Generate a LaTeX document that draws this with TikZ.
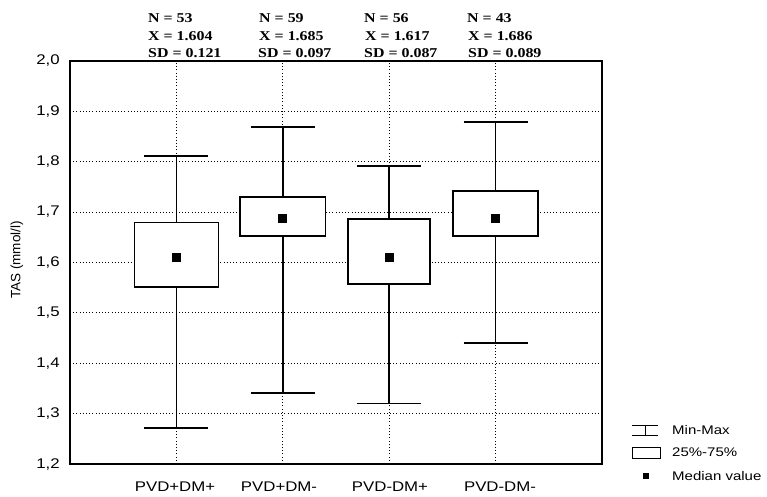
\documentclass[tikz,border=0pt]{standalone}
\usepackage{fontspec}
\setmainfont{Liberation Serif}
\newfontfamily\statfont{Liberation Serif}[FakeStretch=1.18]
\newfontfamily\axisfont{Liberation Sans}[FakeStretch=1.2]
\newfontfamily\labfont{Liberation Sans}
\tikzset{every node/.append style={font=\axisfont\fontsize{14}{16}\selectfont}}
\tikzset{
  stat/.style={anchor=west, inner sep=0pt, font=\statfont\bfseries\fontsize{13.5}{16}\selectfont},
  tick/.style={anchor=east, inner sep=0pt},
  grp/.style={inner sep=0pt},
  legtext/.style={anchor=west, inner sep=0pt, font=\axisfont\fontsize{12.5}{15}\selectfont},
  gridline/.style={line width=0.9pt, dash pattern=on 1pt off 2.2pt},
  whisker/.style={line width=1.7pt},
  iqr/.style={line width=1.7pt, fill=white},
  med/.style={fill=black, inner sep=0pt, minimum size=9pt},
}

\begin{document}
\begin{tikzpicture}[x=1pt, y=-1pt]
  \useasboundingbox (0,0) rectangle (767,496);

  % statistics above the plot
  \node[stat] (n1)  at (148,18) {N = 53};
  \node[stat] (x1)  at (148,36) {X = 1.604};
  \node[stat] (sd1) at (148,53) {SD = 0.121};
  \node[stat] (n2)  at (259,18) {N = 59};
  \node[stat] (x2)  at (259,36) {X = 1.685};
  \node[stat] (sd2) at (258,53) {SD = 0.097};
  \node[stat] (n3)  at (364,18) {N = 56};
  \node[stat] (x3)  at (365,36) {X = 1.617};
  \node[stat] (sd3) at (364,53) {SD = 0.087};
  \node[stat] (n4)  at (467,18) {N = 43};
  \node[stat] (x4)  at (468,36) {X = 1.686};
  \node[stat] (sd4) at (468,53) {SD = 0.089};

  % axis title
  \node[grp, rotate=90, font=\labfont\fontsize{13.5}{15}\selectfont] (ylab) at (17,260) {TAS (mmol/l)};

  % group labels
  \node[grp] (g1) at (175,487) {PVD+DM+};
  \node[grp] (g2) at (279,487) {PVD+DM-};
  \node[grp] (g3) at (390,487) {PVD-DM+};
  \node[grp] (g4) at (500,487) {PVD-DM-};

  \begin{scope}[shift={(70,1068.8)}, x=106.4pt, y=504pt]
    % grid
    \draw[gridline] (0,1.3) -- (5,1.3);
    \draw[gridline] (0,1.4) -- (5,1.4);
    \draw[gridline] (0,1.5) -- (5,1.5);
    \draw[gridline] (0,1.6) -- (5,1.6);
    \draw[gridline] (0,1.7) -- (5,1.7);
    \draw[gridline] (0,1.8) -- (5,1.8);
    \draw[gridline] (0,1.9) -- (5,1.9);
    \draw[gridline] (1,1.2) -- (1,2.0);
    \draw[gridline] (2,1.2) -- (2,2.0);
    \draw[gridline] (3,1.2) -- (3,2.0);
    \draw[gridline] (4,1.2) -- (4,2.0);

    % tick labels
    \node[tick] (t12) at (-0.095,1.2) {1,2};
    \node[tick] (t13) at (-0.095,1.3) {1,3};
    \node[tick] (t14) at (-0.095,1.4) {1,4};
    \node[tick] (t15) at (-0.095,1.5) {1,5};
    \node[tick] (t16) at (-0.095,1.6) {1,6};
    \node[tick] (t17) at (-0.095,1.7) {1,7};
    \node[tick] (t18) at (-0.095,1.8) {1,8};
    \node[tick] (t19) at (-0.095,1.9) {1,9};
    \node[tick] (t20) at (-0.095,2.0) {2,0};

    % whiskers
    \draw[whisker] (1,1.271) -- (1,1.811) (0.70,1.271) -- (1.30,1.271) (0.70,1.811) -- (1.30,1.811);
    \draw[whisker] (2,1.341) -- (2,1.868) (1.70,1.341) -- (2.30,1.341) (1.70,1.868) -- (2.30,1.868);
    \draw[whisker] (3,1.320) -- (3,1.791) (2.70,1.320) -- (3.30,1.320) (2.70,1.791) -- (3.30,1.791);
    \draw[whisker] (4,1.440) -- (4,1.879) (3.70,1.440) -- (4.30,1.440) (3.70,1.879) -- (4.30,1.879);

    % boxes
    \draw[iqr] (0.605,1.551) rectangle (1.395,1.679);
    \draw[iqr] (1.600,1.652) rectangle (2.400,1.730);
    \draw[iqr] (2.615,1.557) rectangle (3.385,1.686);
    \draw[iqr] (3.600,1.652) rectangle (4.400,1.741);

    % medians
    \node[med] (m1) at (1,1.609) {};
    \node[med] (m2) at (2,1.688) {};
    \node[med] (m3) at (3,1.609) {};
    \node[med] (m4) at (4,1.688) {};

    % frame
    \draw[line width=1.8pt] (0,1.2) rectangle (5,2.0);
  \end{scope}

  % legend
  \draw[line width=1pt] (632,425) -- (658,425) (645,425) -- (645,435) (632,435) -- (658,435);
  \draw[line width=1pt] (632,447) rectangle (660,458);
  \node[med, minimum size=6pt] (lm) at (646,476) {};
  \node[legtext] (l1) at (672,430) {Min-Max};
  \node[legtext] (l2) at (672,452) {25\%-75\%};
  \node[legtext] (l3) at (672,476) {Median value};
\end{tikzpicture}
\end{document}
